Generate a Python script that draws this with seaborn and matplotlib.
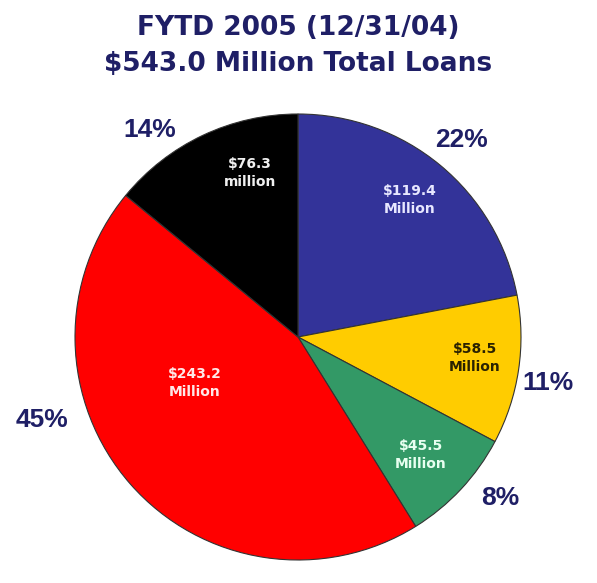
import matplotlib
matplotlib.use("Agg")
import matplotlib.pyplot as plt
import seaborn as sns

sns.set_theme(style="white")
plt.rcParams["font.family"] = ["Liberation Sans", "DejaVu Sans"]

# Loan portfolio, fiscal year to date (millions of dollars), clockwise from 12 o'clock
segments = ["Blue", "Yellow", "Green", "Red", "Black"]
amounts = [119.4, 58.5, 45.5, 243.2, 76.3]
percent_labels = ["22%", "11%", "8%", "45%", "14%"]
amount_labels = ["$119.4\nMillion", "$58.5\nMillion", "$45.5\nMillion",
                 "$243.2\nMillion", "$76.3\nmillion"]
title_lines = ["FYTD 2005 (12/31/04)", "$543.0 Million Total Loans"]

colors = ["#333399", "#FFCC00", "#339966", "#FF0000", "#000000"]
inner_text_colors = ["#E8E8FF", "#2A2200", "#E8FFF0", "#FFE8E8", "#F0F0F0"]
navy = "#1F1F66"

W, H, R = 597, 583, 223.0
cx, cy = 298, 337

fig = plt.figure(figsize=(W / 100, H / 100), dpi=100)
ax = fig.add_axes([0, 0, 1, 1])

ax.pie(amounts, colors=colors, startangle=90, counterclock=False,
       radius=1.0, center=(0, 0), frame=True,
       wedgeprops=dict(edgecolor="#333333", linewidth=0.8))
ax.set_xlim(-cx / R, (W - cx) / R)
ax.set_ylim(-(H - cy) / R, cy / R)
ax.set_aspect("auto")
ax.axis("off")

# outer percentage labels
pct_pos = [(0.735, 0.883), (1.121, -0.206), (0.906, -0.722),
           (-1.148, -0.372), (-0.664, 0.928)]
for (x, y), lab in zip(pct_pos, percent_labels):
    ax.text(x, y, lab, ha="center", va="center", fontsize=19,
            fontweight="bold", color=navy)

# dollar amounts inside the slices
amt_pos = [(0.502, 0.614), (0.794, -0.094), (0.552, -0.529),
           (-0.462, -0.206), (-0.215, 0.735)]
for (x, y), lab, c in zip(amt_pos, amount_labels, inner_text_colors):
    ax.text(x, y, lab, ha="center", va="center", fontsize=10,
            fontweight="bold", color=c, linespacing=1.35,
            family=["DejaVu Sans"])

fig.text(0.5, 1 - 28 / H, title_lines[0], ha="center", va="center",
         fontsize=19, fontweight="bold", color=navy, family=["DejaVu Sans"])
fig.text(0.5, 1 - 64 / H, title_lines[1], ha="center", va="center",
         fontsize=19, fontweight="bold", color=navy, family=["DejaVu Sans"])

fig.savefig("out.png", dpi=100, facecolor="white")
